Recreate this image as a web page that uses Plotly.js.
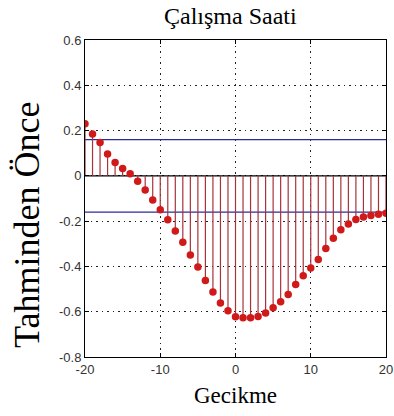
<!DOCTYPE html>
<html>
<head>
<meta charset="utf-8">
<script src="https://cdn.plot.ly/plotly-3.0.1.min.js"></script>
<style>html,body{margin:0;padding:0;background:#fff;}#chart{width:394px;height:416px;}</style>
</head>
<body>
<div id="chart"></div>
<script>
const lags = [-20,-19,-18,-17,-16,-15,-14,-13,-12,-11,-10,-9,-8,-7,-6,-5,-4,-3,-2,-1,0,1,2,3,4,5,6,7,8,9,10,11,12,13,14,15,16,17,18,19,20];
const xcf = [0.230,0.185,0.147,0.097,0.059,0.033,0.009,-0.024,-0.062,-0.107,-0.150,-0.194,-0.244,-0.293,-0.349,-0.403,-0.462,-0.513,-0.562,-0.596,-0.622,-0.627,-0.627,-0.621,-0.606,-0.583,-0.556,-0.524,-0.480,-0.441,-0.407,-0.369,-0.321,-0.276,-0.238,-0.213,-0.193,-0.182,-0.175,-0.170,-0.165];
const bound = 0.16;
const xTicks = [-20,-10,0,10,20];
const yTicks = [-0.8,-0.6,-0.4,-0.2,0,0.2,0.4,0.6];
const yTickText = ['-0.8','-0.6','-0.4','-0.2','0','0.2','0.4','0.6'];

const sx = [], sy = [];
lags.forEach((l,i)=>{ sx.push(l,l,null); sy.push(0,xcf[i],null); });
const xEnds = [lags[0], lags[lags.length-1]];

const traces = [
  {x: xEnds, y: [0,0], mode:'lines', line:{color:'#000', width:1.2}, hoverinfo:'skip', showlegend:false},
  {x: xEnds, y: [bound,bound], mode:'lines', line:{color:'#2a2aa0', width:1.2}, showlegend:false},
  {x: xEnds, y: [-bound,-bound], mode:'lines', line:{color:'#2a2aa0', width:1.2}, showlegend:false},
  {x: sx, y: sy, mode:'lines', line:{color:'#a8323c', width:1.2}, showlegend:false},
  {x: lags, y: xcf, mode:'markers', marker:{color:'#d01a1a', size:7.5}, showlegend:false}
];

const serif = 'Liberation Serif, Times New Roman, serif';
const layout = {
  width:394, height:416,
  margin:{l:85, r:8, t:40, b:59},
  paper_bgcolor:'#fff', plot_bgcolor:'#fff',
  xaxis:{range:[-20,20], tickvals:xTicks, ticktext:xTicks.map(String), ticks:'inside', ticklen:4, tickcolor:'#000',
    showline:true, mirror:'ticks', linecolor:'#000', linewidth:1, showgrid:true, gridcolor:'#222', griddash:'1.5px,4px', gridwidth:1,
    zeroline:false, tickfont:{family:'Liberation Sans', size:13, color:'#333'}},
  yaxis:{range:[-0.8,0.6], tickvals:yTicks, ticktext:yTickText, ticks:'inside', ticklen:4, tickcolor:'#000',
    showline:true, mirror:'ticks', linecolor:'#000', linewidth:1, showgrid:true, gridcolor:'#222', griddash:'1.5px,4px', gridwidth:1,
    zeroline:false, tickfont:{family:'Liberation Sans', size:13, color:'#333'}},
  annotations:[
    {text:'Çalışma Saati', xref:'paper', yref:'paper', x:0.482, y:1.076, xanchor:'center', yanchor:'middle', showarrow:false,
      font:{family:serif, size:24, color:'#000'}},
    {text:'Gecikme', xref:'paper', yref:'paper', x:0.5, y:-0.123, xanchor:'center', yanchor:'middle', showarrow:false,
      font:{family:serif, size:23, color:'#000'}},
    {text:'Tahminden Önce', xref:'paper', yref:'paper', x:-0.193, y:0.416, xanchor:'center', yanchor:'middle', showarrow:false,
      textangle:-90, font:{family:serif, size:36, color:'#000'}}
  ]
};
Plotly.newPlot('chart', traces, layout, {displayModeBar:false, staticPlot:true});
</script>
</body>
</html>
